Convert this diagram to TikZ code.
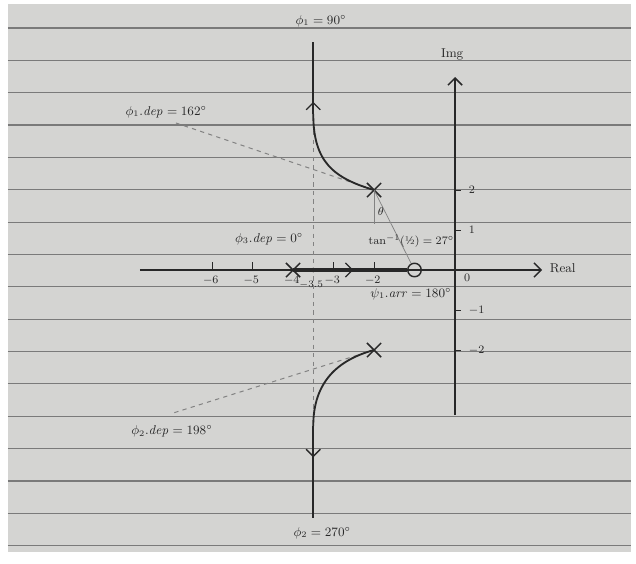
\documentclass[tikz,border=0pt]{standalone}
\usepackage{amsmath,amssymb}
\usetikzlibrary{positioning,arrows.meta,decorations.markings,shapes.misc}
\definecolor{paper}{RGB}{212,212,210}
\definecolor{ruling}{RGB}{122,122,122}
\definecolor{ink}{RGB}{40,40,40}
\definecolor{faint}{RGB}{130,130,130}
\tikzset{
  locus/.style={ink,line width=1.3pt},
  rlocus/.style={ink,line width=2.8pt},
  midarr/.style={postaction={decorate},decoration={markings,mark=at position #1 with {\arrow{Straight Barb[length=5pt,width=10pt,line width=0.9pt]}}}},
  asym/.style={dashed,faint,line width=0.7pt},
  cline/.style={faint,line width=0.5pt},
  pole/.style={cross out,draw=ink,line width=1pt,minimum size=9pt,inner sep=0pt},
  zro/.style={circle,draw=ink,line width=1pt,minimum size=9.5pt,inner sep=0pt},
  axis/.style={ink,line width=1pt,-{Straight Barb[length=5pt,width=10pt]}},
  rule/.style={ruling,line width=0.85pt},
  dlab/.style={font=\small,text=ink,inner sep=1pt},
  tlab/.style={font=\footnotesize,text=ink,inner sep=1pt}
}
\begin{document}
\begin{tikzpicture}[x=1cm,y=0.9877cm]
  \useasboundingbox (-11.235,-7.325) rectangle (4.469,6.75);
  \fill[white] (-11.235,-7.325) rectangle (4.469,6.75);
  \fill[paper] (-11.04,-7.05) rectangle (4.35,6.65);
  % ruled sheet
  \foreach \k in {0,...,16}
    \draw[rule] (-11.04,6.05-0.8088*\k) -- (4.35,6.05-0.8088*\k);

  % axes
  \coordinate (rl) at (-7.78,0);
  \coordinate (rr) at (2.15,0);
  \coordinate (ib) at (0,-3.625);
  \coordinate (it) at (0,4.825);
  \draw[axis] (rl) -- (rr);
  \draw[axis] (ib) -- (it);
  \node[dlab,right] (re) at (2.3,0.05) {Real};
  \node[dlab] (im) at (-0.07,5.4) {Img};
  \node[tlab] (o) at (0.3,-0.2) {$0$};
  \foreach \x in {-6,-5,-3,-2}
    \draw[ink,line width=0.6pt] (\x,0) -- (\x,0.2);
  \foreach \x in {-6,-5,-4,-3,-2}
    \node[tlab] (rx\x) at (\x-0.03,-0.27) {$\x$};
  \node[tlab,font=\scriptsize] (rx35) at (-3.55,-0.38) {$-3.5$};
  \foreach \y in {-2,-1,1,2} {
    \draw[ink,line width=0.6pt] (0,\y) -- (0.15,\y);
    \node[tlab,right] (iy\y) at (0.3,\y) {$\y$};
  }

  % poles and zero
  \node[pole] (p1) at (-2,2) {};
  \node[pole] (p2) at (-2,-2) {};
  \node[pole] (p3) at (-4,0) {};
  \node[zro] (z1) at (-1,0) {};
  \coordinate (cen) at (-3.5,0);
  \fill[ink] (cen) circle (1.6pt);

  % asymptote and departure angles
  \coordinate (at) at (-3.5,3.9);
  \coordinate (ab) at (-3.5,-3.9);
  \coordinate (top) at (-3.5,5.7);
  \coordinate (bot) at (-3.5,-6.2);
  \coordinate (d1) at (-6.89,3.675);
  \coordinate (d2) at (-6.96,-3.575);
  \coordinate (p1f) at (-2,1.15);
  \draw[asym] (at) -- (ab);
  \draw[asym] (p1.center) -- (d1);
  \draw[asym] (p2.center) -- (d2);
  \draw[cline] (p1.center) -- (p1f);
  \draw[cline] (p1.center) -- (z1);

  % branches
  \draw[locus] (p1.center) .. controls (-3.0,2.3) and (-3.5,2.7) .. (at);
  \draw[locus,midarr=0.17] (at) -- (top);
  \draw[locus] (p2.center) .. controls (-2.9,-2.25) and (-3.5,-2.8) .. (ab);
  \draw[locus,midarr=0.34] (ab) -- (bot);
  \draw[rlocus,midarr=0.53] (p3.center) -- (z1);

  % angle notes
  \node[dlab] (l1) at (-3.31,6.225) {$\phi_1=90^\circ$};
  \node[dlab] (l1d) at (-7.13,3.95) {$\phi_1.\mathit{dep}=162^\circ$};
  \node[dlab] (l3d) at (-4.59,0.775) {$\phi_3.\mathit{dep}=0^\circ$};
  \node[dlab,font=\footnotesize] (lt) at (-1.08,0.72) {$\tan^{-1}$(\textonehalf)${}=27^\circ$};
  \node[dlab] (la) at (-1.09,-0.6) {$\psi_1.\mathit{arr}=180^\circ$};
  \node[dlab] (l2d) at (-6.99,-4.03) {$\phi_2.\mathit{dep}=198^\circ$};
  \node[dlab] (l2) at (-3.28,-6.575) {$\phi_2=270^\circ$};
  \node[tlab] (th) at (-1.83,1.45) {$\theta$};
\end{tikzpicture}
\end{document}
